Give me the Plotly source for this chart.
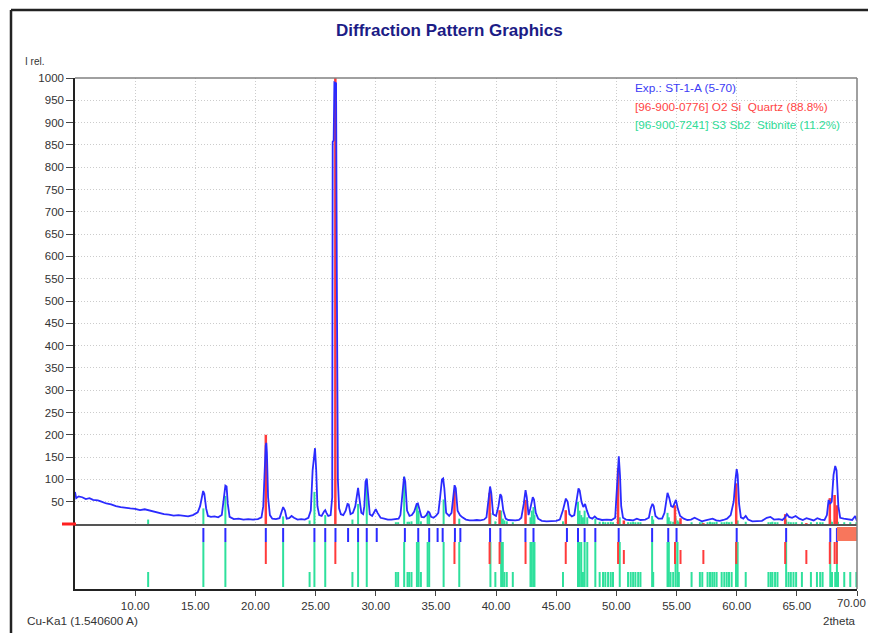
import plotly.graph_objects as go

# ---------------- DATA ----------------
exp_2theta = [5.0, 5.1, 5.3, 5.6, 5.9, 6.2, 6.5, 6.9, 7.2, 7.6, 8.0, 8.4, 8.8, 9.2, 9.6, 10.0,
              10.4, 10.8, 11.2, 11.6, 12.0, 12.4, 12.8, 13.2, 13.6, 14.0, 14.4, 14.8, 15.0, 15.2,
              15.4, 15.55, 15.65, 15.75, 15.9, 16.05, 16.3, 16.6, 16.9, 17.2, 17.35, 17.5, 17.6,
              17.7, 17.85, 18.2, 18.6, 19.0, 19.4, 19.8, 20.2, 20.5, 20.65, 20.75, 20.85, 20.9,
              20.95, 21.05, 21.2, 21.4, 21.7, 22.0, 22.15, 22.3, 22.45, 22.6, 22.8, 23.0, 23.2,
              23.5, 23.8, 24.1, 24.4, 24.6, 24.75, 24.85, 24.95, 25.05, 25.15, 25.3, 25.5, 25.7,
              25.8, 25.9, 26.05, 26.25, 26.38, 26.42, 26.5, 26.56, 26.7, 26.76, 26.85, 26.95,
              27.1, 27.3, 27.5, 27.65, 27.75, 27.9, 28.1, 28.3, 28.45, 28.53, 28.65, 28.8, 28.95,
              29.05, 29.15, 29.25, 29.35, 29.5, 29.7, 29.85, 30.0, 30.15, 30.4, 30.7, 31.0, 31.3,
              31.6, 31.9, 32.05, 32.2, 32.35, 32.45, 32.6, 32.8, 33.0, 33.2, 33.4, 33.5, 33.65,
              33.8, 34.0, 34.2, 34.35, 34.45, 34.6, 34.8, 35.0, 35.2, 35.35, 35.5, 35.6, 35.7,
              35.85, 36.1, 36.3, 36.45, 36.55, 36.65, 36.8, 37.0, 37.2, 37.5, 37.8, 38.1, 38.4,
              38.7, 39.0, 39.2, 39.35, 39.5, 39.6, 39.75, 40.0, 40.2, 40.35, 40.45, 40.6, 40.8,
              41.0, 41.3, 41.6, 41.9, 42.1, 42.3, 42.45, 42.55, 42.7, 42.85, 43.05, 43.15, 43.3,
              43.5, 43.8, 44.2, 44.6, 45.0, 45.3, 45.55, 45.8, 45.95, 46.1, 46.3, 46.5, 46.65,
              46.85, 46.95, 47.1, 47.25, 47.4, 47.55, 47.75, 48.0, 48.2, 48.4, 48.8, 49.2, 49.6,
              49.9, 50.05, 50.15, 50.2, 50.3, 50.4, 50.55, 50.8, 51.1, 51.4, 51.7, 52.0, 52.4,
              52.7, 52.85, 53.0, 53.1, 53.25, 53.5, 53.8, 54.0, 54.15, 54.25, 54.4, 54.55, 54.7,
              54.85, 54.95, 55.1, 55.3, 55.6, 55.9, 56.2, 56.5, 56.8, 57.1, 57.4, 57.7, 58.0,
              58.3, 58.6, 58.9, 59.2, 59.5, 59.75, 59.9, 60.0, 60.08, 60.2, 60.35, 60.55, 60.75,
              60.95, 61.3, 61.7, 62.1, 62.5, 62.8, 63.1, 63.5, 63.8, 64.0, 64.17, 64.35, 64.6,
              64.9, 65.2, 65.5, 65.8, 66.1, 66.4, 66.7, 67.0, 67.3, 67.5, 67.64, 67.75, 67.9,
              68.05, 68.19, 68.3, 68.45, 68.6, 68.9, 69.3, 69.6, 69.85, 69.95, 70.0]
exp_intensity = [72, 58, 62, 60, 56, 58, 54, 53, 50, 46, 44, 40, 38, 36, 35, 34,
                 31, 33, 30, 28, 24, 22, 21, 19, 20, 18, 17, 20, 24, 26,
                 40, 65, 74, 68, 35, 18, 16, 17, 15, 20, 50, 86, 84,
                 45, 16, 11, 12, 10, 11, 10, 11, 15, 40, 120, 175, 182,
                 160, 60, 20, 12, 11, 13, 25, 38, 30, 12, 13, 18, 14,
                 10, 11, 10, 14, 30, 120, 150, 170, 120, 40, 20, 18, 28,
                 31, 25, 18, 20, 60, 857, 860, 990, 988, 570, 100, 35,
                 22, 20, 30, 45, 44, 22, 25, 40, 75, 81, 55, 25, 22,
                 40, 95, 102, 70, 22, 18, 26, 33, 25, 14, 12, 10, 10,
                 11, 12, 20, 60, 106, 95, 30, 18, 20, 28, 45, 46, 30,
                 16, 15, 20, 28, 26, 16, 14, 18, 25, 60, 100, 102, 80,
                 25, 18, 25, 60, 87, 80, 30, 20, 15, 10, 8, 8, 9,
                 8, 10, 15, 55, 84, 70, 22, 18, 40, 67, 62, 30, 12,
                 9, 8, 8, 9, 14, 45, 76, 60, 20, 35, 60, 55, 25,
                 12, 7, 6, 6, 7, 10, 30, 57, 50, 22, 17, 20, 45,
                 80, 75, 50, 38, 45, 30, 15, 12, 17, 12, 9, 10, 9,
                 14, 80, 140, 152, 110, 40, 14, 10, 9, 8, 12, 9, 10,
                 14, 35, 45, 40, 18, 12, 12, 25, 55, 70, 58, 40, 38,
                 50, 54, 35, 18, 12, 9, 10, 14, 10, 6, 8, 10, 12,
                 8, 7, 9, 12, 20, 50, 100, 123, 110, 45, 15, 12, 18,
                 10, 6, 6, 7, 14, 16, 10, 11, 9, 14, 22, 16, 14,
                 18, 12, 9, 13, 10, 8, 13, 10, 9, 20, 54, 45, 50,
                 110, 130, 120, 40, 14, 12, 10, 9, 18, 12, 6]

# Quartz reference lines (96-900-0776)
quartz_2theta = [20.86, 26.64, 36.54, 39.46, 40.29, 42.45, 45.79, 50.14, 50.62, 54.87,
                 55.33, 57.23, 59.96, 64.03, 65.79, 67.74, 68.14, 68.32]
quartz_int = [200, 1000, 75, 70, 31, 54, 31, 125, 8, 42, 13, 2, 91, 22, 2, 58, 65, 42]
quartz_matched = [1, 1, 1, 1, 1, 1, 1, 1, 0, 1, 0, 0, 1, 1, 0, 1, 1, 1]

# Stibnite reference lines (96-900-7241)
stib_2theta = [11.08, 15.67, 17.5, 22.3, 24.5, 24.9, 25.8, 28.06, 28.53, 29.25, 31.67, 31.86,
               32.36, 32.64, 32.78, 32.97, 33.42, 33.56, 33.75, 34.31, 34.44, 35.64, 36.94,
               39.53, 39.94, 40.42, 40.56, 40.69, 40.89, 41.39, 42.86, 42.97, 43.11, 43.19,
               45.56, 46.81, 46.94, 47.08, 47.22, 47.36, 47.58, 48.25, 48.61, 48.89, 49.08,
               49.31, 49.53, 49.72, 50.28, 50.97, 51.19, 51.39, 51.58, 51.81, 52.0, 52.97,
               53.06, 54.25, 54.36, 54.5, 54.72, 54.92, 55.08, 55.19, 56.25, 56.94, 57.14,
               57.58, 57.78, 57.97, 58.14, 58.33, 58.75, 58.97, 59.17, 59.36, 59.58, 59.94,
               60.08, 60.75, 62.64, 62.83, 62.97, 63.19, 63.39, 64.11, 64.31, 64.5, 64.72,
               64.94, 65.42, 66.17, 66.67, 66.94, 67.14, 67.78, 67.92, 68.19, 68.33, 68.42,
               68.94, 69.44, 69.95]
stib_int = [10, 35, 63, 17, 8, 72, 20, 10, 45, 100, 4, 4,
            106, 5, 5, 6, 45, 30, 6, 25, 22, 55, 12,
            25, 6, 30, 12, 8, 6, 4, 15, 30, 38, 20,
            6, 50, 30, 20, 15, 30, 15, 12, 5, 5, 4,
            4, 5, 4, 15, 4, 4, 5, 4, 4, 4, 18,
            10, 25, 15, 6, 5, 15, 8, 5, 4, 4, 4,
            4, 5, 4, 4, 5, 4, 4, 5, 4, 5, 15,
            8, 5, 4, 4, 5, 4, 4, 10, 5, 4, 4,
            4, 4, 4, 4, 4, 4, 10, 5, 6, 10, 5,
            4, 4, 4]
stib_matched = [0, 1, 1, 1, 0, 1, 1, 0, 1, 1, 0, 0,
                1, 0, 0, 0, 1, 1, 0, 1, 1, 1, 1,
                1, 0, 1, 1, 0, 0, 0, 1, 1, 1, 1,
                0, 1, 1, 1, 0, 1, 1, 1, 0, 0, 0,
                0, 0, 0, 1, 0, 0, 0, 0, 0, 0, 1,
                0, 1, 1, 0, 0, 1, 1, 0, 0, 0, 0,
                0, 0, 0, 0, 0, 0, 0, 0, 0, 0, 1,
                1, 0, 0, 0, 0, 0, 0, 1, 0, 0, 0,
                0, 0, 0, 0, 0, 0, 1, 0, 0, 1, 0,
                0, 0, 0]

# Experimental peak positions (marker row)
exp_peaks = [15.67, 17.5, 20.86, 22.3, 24.9, 25.8, 26.65, 27.7, 28.53, 29.25, 30.08, 32.42,
             33.53, 34.44, 35.14, 35.56, 36.58, 37.03, 39.5, 40.36, 42.44, 43.11, 45.89,
             46.81, 47.36, 48.25, 50.19, 52.97, 54.31, 55.0, 60.0, 64.11, 67.78, 68.33]

excluded_range = [68.33, 70.0]

y_ticks = list(range(50, 1001, 50))
x_ticks = list(range(10, 71, 5))

legend_lines = ["Exp.: ST-1-A (5-70)",
                "[96-900-0776] O2 Si\u00a0 Quartz (88.8%)",
                "[96-900-7241] S3 Sb2\u00a0 Stibnite (11.2%)"]

# ---------------- STYLE ----------------
BLUE = "#2b2bff"
RED = "#ff3b3b"
GREEN = "#2fe09c"
FONT = "Arial, Liberation Sans, sans-serif"
OFF = 8                                  # page body margin of the html page
PAGE_W, PAGE_H = 876, 641
W, H = PAGE_W - 2 * OFF, PAGE_H - 2 * OFF  # figure fits the window without scrolling
L, R, T, B = 75, 857, 78, 589            # page-pixel plot area
BASE = 524


def px_x(p):
    return (p - L) / (R - L)


def px_y(p):
    return (B - p) / (B - T)


def sticks(xs, y0s, y1s):
    X, Y = [], []
    for x, a, b in zip(xs, y0s, y1s):
        X += [x, x, None]
        Y += [a, b, None]
    return X, Y


fig = go.Figure()

# upper panel sticks
gx, gy = sticks(stib_2theta, [0] * len(stib_2theta), stib_int)
fig.add_trace(go.Scatter(x=gx, y=gy, mode="lines", line=dict(color=GREEN, width=2),
                         xaxis="x", yaxis="y", hoverinfo="skip", showlegend=False))
rx, ry = sticks(quartz_2theta, [0] * len(quartz_2theta), quartz_int)
fig.add_trace(go.Scatter(x=rx, y=ry, mode="lines", line=dict(color=RED, width=2.5),
                         xaxis="x", yaxis="y", hoverinfo="skip", showlegend=False))
# experimental profile
fig.add_trace(go.Scatter(x=exp_2theta, y=exp_intensity, mode="lines",
                         line=dict(color=BLUE, width=1.8), xaxis="x", yaxis="y",
                         showlegend=False))

# lower panel (values are negative pixel offsets below the baseline)
ROW_BLUE = (-4, -18)
ROW_RED_M = (-18, -40)
ROW_RED_U = (-26, -40)
ROW_GREEN_M = (-18, -63)
ROW_GREEN_U = (-48, -63)

gx, gy = sticks(stib_2theta,
                [ROW_GREEN_M[0] if m else ROW_GREEN_U[0] for m in stib_matched],
                [ROW_GREEN_M[1] if m else ROW_GREEN_U[1] for m in stib_matched])
fig.add_trace(go.Scatter(x=gx, y=gy, mode="lines", line=dict(color=GREEN, width=2),
                         xaxis="x2", yaxis="y2", hoverinfo="skip", showlegend=False))
rx, ry = sticks(quartz_2theta,
                [ROW_RED_M[0] if m else ROW_RED_U[0] for m in quartz_matched],
                [ROW_RED_M[1] if m else ROW_RED_U[1] for m in quartz_matched])
fig.add_trace(go.Scatter(x=rx, y=ry, mode="lines", line=dict(color=RED, width=2),
                         xaxis="x2", yaxis="y2", hoverinfo="skip", showlegend=False))
bx, by = sticks(exp_peaks, [ROW_BLUE[0]] * len(exp_peaks), [ROW_BLUE[1]] * len(exp_peaks))
fig.add_trace(go.Scatter(x=bx, y=by, mode="lines", line=dict(color=BLUE, width=2),
                         xaxis="x2", yaxis="y2", hoverinfo="skip", showlegend=False))

split = px_y(BASE)

shapes = [
    dict(type="rect", xref="x2", yref="y2", x0=excluded_range[0], x1=excluded_range[1],
         y0=-3, y1=-17, fillcolor="#f8765c", line=dict(width=0), layer="above"),
    dict(type="line", xref="paper", yref="paper", x0=0, x1=1, y0=1, y1=1,
         line=dict(color="#808080", width=1.5)),
    dict(type="line", xref="paper", yref="paper", x0=1, x1=1, y0=0, y1=1,
         line=dict(color="#808080", width=1.5)),
    dict(type="line", xref="paper", yref="paper", x0=px_x(62), x1=px_x(76),
         y0=split, y1=split, line=dict(color="#ff2020", width=3)),
    # outer frame (left and top edges visible; right/bottom beyond the page)
    dict(type="line", xref="paper", yref="paper", x0=px_x(11), x1=px_x(PAGE_W + 40),
         y0=px_y(10), y1=px_y(10), line=dict(color="#222222", width=2.5)),
    dict(type="line", xref="paper", yref="paper", x0=px_x(11), x1=px_x(11),
         y0=px_y(10), y1=px_y(PAGE_H + 40), line=dict(color="#222222", width=2.5)),
]

annotations = [
    dict(text="<b>Diffraction Pattern Graphics</b>", xref="paper", yref="paper",
         x=px_x(449), y=px_y(30), showarrow=False, xanchor="center", yanchor="middle",
         font=dict(family=FONT, size=17, color="#1c1c86")),
    dict(text="I rel.", xref="paper", yref="paper", x=px_x(23), y=px_y(61),
         showarrow=False, xanchor="left", yanchor="middle",
         font=dict(family=FONT, size=10, color="#333333")),
    dict(text="Cu-Ka1 (1.540600 A)", xref="paper", yref="paper", x=px_x(25), y=px_y(621),
         showarrow=False, xanchor="left", yanchor="middle",
         font=dict(family=FONT, size=11.8, color="#333333")),
    dict(text="2theta", xref="paper", yref="paper", x=px_x(858), y=px_y(621),
         showarrow=False, xanchor="right", yanchor="middle",
         font=dict(family=FONT, size=11.5, color="#333333")),
    # last tick label, kept inside the page so it is not dropped at the edge
    dict(text=f"{x_ticks[-1]:.2f}", xref="paper", yref="paper", x=px_x(OFF + W),
         y=px_y(603), showarrow=False, xanchor="right", yanchor="middle",
         font=dict(family=FONT, size=11.5, color="#333333")),
]
leg_colors = ["#3c3cf5", "#ff4444", "#30dc98"]
for i, (txt, col) in enumerate(zip(legend_lines, leg_colors)):
    annotations.append(dict(text=txt, xref="paper", yref="paper", x=px_x(633),
                            y=px_y(88 + i * 18.7), showarrow=False, xanchor="left",
                            yanchor="middle", font=dict(family=FONT, size=11.8, color=col)))

fig.update_layout(
    width=W, height=H,
    margin=dict(l=L - OFF, r=(OFF + W) - R, t=T - OFF, b=(OFF + H) - B, pad=0),
    paper_bgcolor="white", plot_bgcolor="white",
    font=dict(family=FONT, size=11, color="#333333"),
    showlegend=False,
    xaxis=dict(domain=[0, 1], anchor="y", range=[5, 70], tickvals=x_ticks,
               showticklabels=False, ticks="", showgrid=True, gridcolor="#cccccc",
               griddash="1px,2px", gridwidth=1, zeroline=False, showline=True,
               linecolor="#555555", linewidth=2),
    yaxis=dict(domain=[split, 1], anchor="x", range=[0, 1000], tickvals=y_ticks,
               ticks="outside", ticklen=7, tickcolor="#444444", tickwidth=1,
               showgrid=True, gridcolor="#cccccc", griddash="1px,2px", zeroline=False,
               showline=True, linecolor="#222222", linewidth=1.5,
               tickfont=dict(family=FONT, size=11.5, color="#333333")),
    xaxis2=dict(domain=[0, 1], anchor="y2", range=[5, 70], matches="x", tickvals=x_ticks,
                tickformat=".2f", ticks="outside", ticklen=5, tickcolor="#444444",
                showgrid=False, zeroline=False, showline=True, linecolor="#222222",
                linewidth=1.5, tickfont=dict(family=FONT, size=11.5, color="#333333")),
    yaxis2=dict(domain=[0, split], anchor="x2", range=[-65, 0], showticklabels=False,
                ticks="", showgrid=False, zeroline=False, showline=True,
                linecolor="#222222", linewidth=1.5),
    shapes=shapes,
    annotations=annotations,
)

fig.write_html("out.html")
